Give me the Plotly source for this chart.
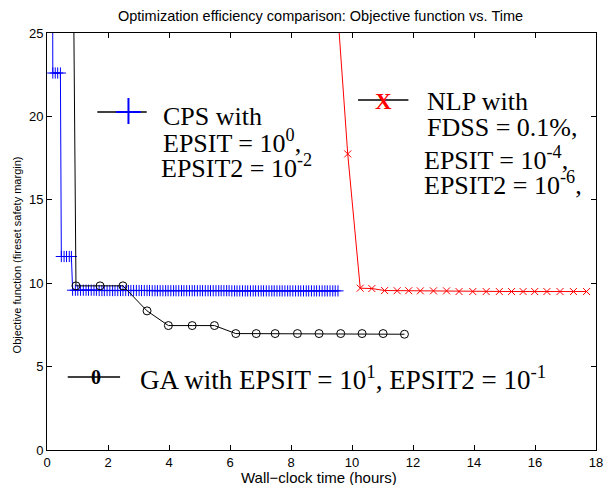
import plotly.graph_objects as go

# ---- data -------------------------------------------------------------
cps_time = [0.17, 0.19, 0.27, 0.35, 0.44, 0.47, 0.56, 0.64, 0.73, 0.80,
            0.84, 0.93, 1.01, 1.10, 1.19, 1.28, 1.36, 1.45, 1.54, 1.62,
            1.71, 1.80, 1.88, 1.97, 2.06, 2.15, 2.23, 2.32, 2.41, 2.49,
            2.58, 2.67, 2.75, 2.84, 2.93, 3.02, 3.10, 3.19, 3.28, 3.36,
            3.45, 3.54, 3.62, 3.71, 3.80, 3.89, 3.97, 4.06, 4.15, 4.23,
            4.32, 4.41, 4.49, 4.58, 4.67, 4.76, 4.84, 4.93, 5.02, 5.10,
            5.19, 5.28, 5.36, 5.45, 5.54, 5.63, 5.71, 5.80, 5.89, 5.97,
            6.06, 6.15, 6.23, 6.32, 6.41, 6.50, 6.58, 6.67, 6.76, 6.84,
            6.93, 7.02, 7.10, 7.19, 7.28, 7.37, 7.45, 7.54, 7.63, 7.71,
            7.80, 7.89, 7.97, 8.06, 8.15, 8.24, 8.32, 8.41, 8.50, 8.58,
            8.67, 8.76, 8.84, 8.93, 9.02, 9.11, 9.19, 9.28, 9.37, 9.45,
            9.54]
cps_obj = [45.0, 22.6, 22.6, 22.6, 22.6, 11.6, 11.6, 11.6, 11.6, 11.6,
           9.58, 9.58, 9.58, 9.58, 9.58, 9.58, 9.58, 9.58, 9.58, 9.58,
           9.56, 9.56, 9.56, 9.56, 9.56, 9.56, 9.56, 9.56, 9.56, 9.56,
           9.56, 9.56, 9.56, 9.56, 9.56, 9.56, 9.56, 9.56, 9.56, 9.56,
           9.55, 9.55, 9.55, 9.55, 9.55, 9.55, 9.55, 9.55, 9.55, 9.55,
           9.55, 9.55, 9.55, 9.55, 9.55, 9.55, 9.55, 9.55, 9.55, 9.55,
           9.55, 9.55, 9.55, 9.55, 9.55, 9.55, 9.55, 9.55, 9.55, 9.55,
           9.54, 9.54, 9.54, 9.54, 9.54, 9.54, 9.54, 9.54, 9.54, 9.54,
           9.54, 9.54, 9.54, 9.54, 9.54, 9.54, 9.54, 9.54, 9.54, 9.54,
           9.54, 9.54, 9.54, 9.54, 9.54, 9.54, 9.54, 9.54, 9.54, 9.54,
           9.54, 9.54, 9.54, 9.54, 9.54, 9.54, 9.54, 9.54, 9.54, 9.54,
           9.54]

ga_time = [0.86, 0.95, 1.74, 2.49, 3.28, 3.98, 4.76, 5.49, 6.19, 6.86,
           7.48, 8.21, 8.92, 9.63, 10.33, 11.02, 11.72]
ga_obj = [30.0, 9.84, 9.84, 9.84, 8.34, 7.46, 7.46, 7.46, 6.98, 6.98,
          6.98, 6.98, 6.98, 6.98, 6.98, 6.98, 6.94]

nlp_time = [9.00, 9.86, 10.27, 10.65, 11.07, 11.48, 11.86, 12.24, 12.67,
            13.10, 13.51, 13.96, 14.40, 14.83, 15.23, 15.61, 15.99, 16.39,
            16.82, 17.26, 17.69]
nlp_obj = [40.0, 17.75, 9.70, 9.68, 9.56, 9.55, 9.55, 9.54, 9.54, 9.54,
           9.50, 9.50, 9.50, 9.50, 9.50, 9.50, 9.50, 9.50, 9.50, 9.50, 9.50]

x_ticks = [0, 2, 4, 6, 8, 10, 12, 14, 16, 18]
y_ticks = [0, 5, 10, 15, 20, 25]

# ---- figure geometry ---------------------------------------------------
W, H = 609, 485
L, R, T, B = 47, 6, 33, 35
PW, PH = W - L - R, H - T - B


def px(x):
    return (x - L) / PW


def py(y):
    return (H - B - y) / PH


SANS = "Liberation Sans"
SERIF = "Liberation Serif"

fig = go.Figure()

fig.add_trace(go.Scatter(
    x=cps_time, y=cps_obj, mode="lines+markers",
    line=dict(color="#0000ff", width=1),
    marker=dict(symbol="cross-thin", size=8,
                line=dict(color="#0000ff", width=1)),
    showlegend=False))

fig.add_trace(go.Scatter(
    x=ga_time, y=ga_obj, mode="lines+markers",
    line=dict(color="black", width=1),
    marker=dict(symbol="circle-open", size=8,
                line=dict(color="black", width=1), color="black"),
    showlegend=False))

fig.add_trace(go.Scatter(
    x=nlp_time, y=nlp_obj, mode="lines+markers",
    line=dict(color="#ff0000", width=1),
    marker=dict(symbol="x-thin", size=7,
                line=dict(color="#ff0000", width=1)),
    showlegend=False))

axis_common = dict(
    showline=True, linecolor="black", linewidth=1, mirror="ticks",
    ticks="inside", ticklen=5, tickcolor="black", tickwidth=1,
    showgrid=False, zeroline=False, ticklabeloverflow="allow",
    tickfont=dict(family=SANS, size=13, color="black"),
)

fig.update_xaxes(range=[0, 18], tickvals=x_ticks, **axis_common)
fig.update_yaxes(range=[0, 25], tickvals=y_ticks, **axis_common)

shapes = []
annotations = []


def seg(x0, y0, x1, y1, color, width):
    shapes.append(dict(type="line", xref="paper", yref="paper",
                       x0=px(x0), y0=py(y0), x1=px(x1), y1=py(y1),
                       line=dict(color=color, width=width)))


def text(x, y, s, size=26, family=SERIF, color="black", anchor="left",
         bold=False):
    if bold:
        s = "<b>" + s + "</b>"
    annotations.append(dict(xref="paper", yref="paper", x=px(x), y=py(y),
                            text=s, showarrow=False, xanchor=anchor,
                            yanchor="middle",
                            font=dict(family=family, size=size, color=color)))


# CPS legend entry
seg(98, 112, 148, 112, "black", 1.3)
seg(117, 112, 142, 112, "#0000ff", 2)
seg(129.5, 98, 129.5, 124, "#0000ff", 2)
text(162, 116, "CPS with")
text(162, 141, "EPSIT = 10<sup>0</sup>,")
text(160, 166, "EPSIT2 = 10<sup>-2</sup>")

# NLP legend entry
seg(362, 100, 413, 100, "black", 1.3)
text(388, 101, "X", size=23, color="#ff0000", anchor="center", bold=True)
text(430, 101, "NLP with")
text(430, 127, "FDSS = 0.1%,")
text(427, 158, "EPSIT = 10<sup>-4</sup>,")
text(427, 183, "EPSIT2 = 10<sup>-6</sup>,")

# GA legend entry
seg(68, 377, 121, 377, "black", 1.3)
text(97, 377, "0", size=20, anchor="center", bold=True)
text(139, 378, "GA with EPSIT = 10<sup>1</sup>, EPSIT2 = 10<sup>-1</sup>",
     size=27)

# titles
text(324, 16, "Optimization efficiency comparison: Objective function vs. Time",
     size=14.5, family=SANS, anchor="center")
text(322, 477, "Wall\u2212clock time (hours)", size=15, family=SANS,
     anchor="center")
annotations.append(dict(xref="paper", yref="paper", x=px(17), y=py(255),
                        text="Objective function (fireset safety margin)",
                        textangle=-90, showarrow=False, xanchor="center",
                        yanchor="middle",
                        font=dict(family=SANS, size=11, color="black")))

fig.update_layout(
    width=W, height=H,
    margin=dict(l=L, r=R, t=T, b=B, pad=0),
    paper_bgcolor="white", plot_bgcolor="white",
    shapes=shapes, annotations=annotations,
    showlegend=False,
)

fig.write_html("out.html")
